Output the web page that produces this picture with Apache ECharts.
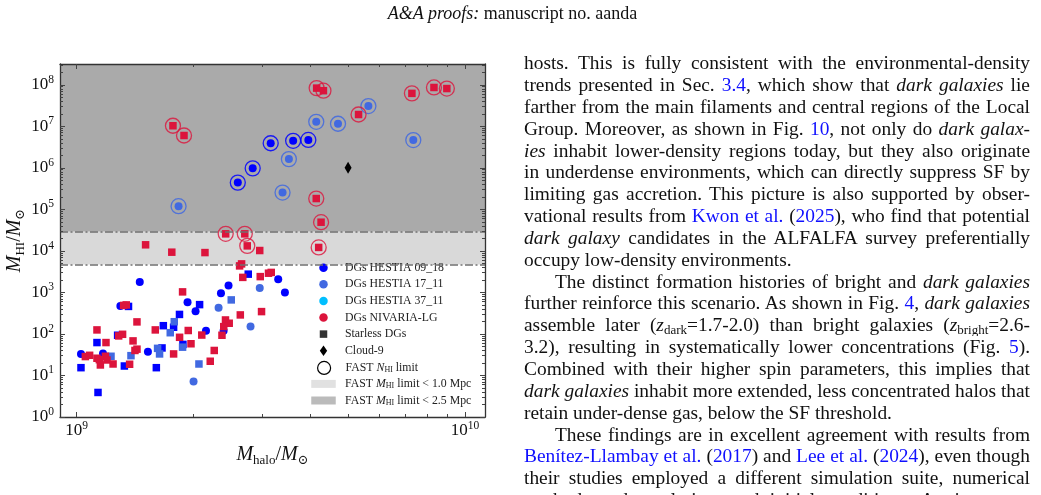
<!DOCTYPE html>
<html>
<head>
<meta charset="utf-8">
<script src="https://cdn.jsdelivr.net/npm/echarts@6/dist/echarts.min.js"></script>
<style>
html,body{margin:0;padding:0;background:#fff;width:1041px;height:495px;overflow:hidden;}
#chart{position:absolute;left:0;top:0;width:1041px;height:495px;}
.hdr{position:absolute;left:0;top:3px;width:1025px;text-align:center;font-family:'Liberation Serif','DejaVu Serif',serif;font-size:18px;line-height:20px;color:#111;}
#txt{position:absolute;left:524px;top:52.2px;width:506px;font-family:'Liberation Serif','DejaVu Serif',serif;font-size:19.4px;line-height:21.85px;color:#111;}
#txt .l{height:21.85px;overflow:hidden;text-align:justify;text-align-last:justify;}
#txt .e{text-align:left;text-align-last:left;}
#txt .ind{text-indent:31px;}
#txt a{color:#1010ff;text-decoration:none;}
#txt .sb{font-size:13px;vertical-align:-3px;line-height:0;}
</style>
</head>
<body>
<div id="chart"></div>
<div class="hdr"><i>A&amp;A proofs:</i> manuscript no. aanda</div>
<div id="txt">
<div class="l">hosts. This is fully consistent with the environmental-density</div>
<div class="l">trends presented in Sec. <a>3.4</a>, which show that <i>dark galaxies</i> lie</div>
<div class="l">farther from the main filaments and central regions of the Local</div>
<div class="l">Group. Moreover, as shown in Fig. <a>10</a>, not only do <i>dark galax-</i></div>
<div class="l"><i>ies</i> inhabit lower-density regions today, but they also originate</div>
<div class="l">in underdense environments, which can directly suppress SF by</div>
<div class="l">limiting gas accretion. This picture is also supported by obser-</div>
<div class="l">vational results from <a>Kwon et al.</a> (<a>2025</a>), who find that potential</div>
<div class="l"><i>dark galaxy</i> candidates in the ALFALFA survey preferentially</div>
<div class="l e">occupy low-density environments.</div>
<div class="l ind">The distinct formation histories of bright and <i>dark galaxies</i></div>
<div class="l">further reinforce this scenario. As shown in Fig. <a>4</a>, <i>dark galaxies</i></div>
<div class="l">assemble later (<i>z</i><span class="sb">dark</span>=1.7-2.0) than bright galaxies (<i>z</i><span class="sb">bright</span>=2.6-</div>
<div class="l">3.2), resulting in systematically lower concentrations (Fig. <a>5</a>).</div>
<div class="l">Combined with their higher spin parameters, this implies that</div>
<div class="l"><i>dark galaxies</i> inhabit more extended, less concentrated halos that</div>
<div class="l e">retain under-dense gas, below the SF threshold.</div>
<div class="l ind">These findings are in excellent agreement with results from</div>
<div class="l"><a>Benítez-Llambay et al.</a> (<a>2017</a>) and <a>Lee et al.</a> (<a>2024</a>), even though</div>
<div class="l">their studies employed a different simulation suite, numerical</div>
<div class="l">methods and resolution, and initial conditions. An important differ-</div>
</div>
<script>
// ---------------- data: [M_halo (Msun), M_HI (Msun)] ----------------
const hestia0918 = [[1.454e9,1790],[1.93e9,580],[2.024e9,352],[2.353e9,960],[2.461e9,1460],[2.153e9,120],
  [1.296e9,473],[1.526e9,37],[1.026e9,33],[1.169e9,34],[3.304e9,2080],[3.438e9,990],[2.39e9,120]];
const hestia0918Starless = [[2.073e9,508],[1.36e9,460],[1.672e9,158],[1.777e9,145],[1.128e9,62],[1.659e9,46],
  [1.878e9,56],[1.026e9,15.4],[1.327e9,16.9],[1.604e9,15.4],[1.135e9,3.9],[1.84e9,295],[2.766e9,2750],[1.275e9,93]];
const hestia0918Fast = [[2.6e9,4.4e5],[2.84e9,9.7e5],[3.16e9,3.9e6],[3.61e9,4.47e6],[3.95e9,4.7e6]];

const hestia1711 = [[2.32e9,430],[2.961e9,1280],[2.804e9,152],[2.0e9,7.2]];
const hestia1711Starless = [[2.501e9,660],[1.784e9,197],[1.742e9,107],[1.874e9,48],[2.065e9,18.9],
  [1.616e9,45],[1.635e9,33],[1.226e9,29],[1.38e9,30]];
const hestia1711Fast = [[1.83e9,1.19e5],[3.39e9,2.54e5],[3.52e9,1.62e6],[4.14e9,1.28e7],[4.71e9,1.15e7],
  [5.64e9,3.07e7],[7.36e9,4.65e6]];

const hestia3711 = [];

const nivariaStarless = [[1.505e9,1.40e4],[1.758e9,9.3e3],[2.14e9,9.1e3],[2.961e9,1.02e4],
  [2.659e9,4860],[2.628e9,4350],[2.678e9,2300],[2.97e9,2400],[3.119e9,2900],[3.17e9,3030],[2.993e9,345],
  [1.874e9,1030],[2.639e9,287],[2.417e9,217],[2.471e9,181],[2.392e9,150],[2.367e9,93],[1.938e9,121],
  [2.1e9,94],[1.841e9,83],[1.97e9,58],[1.777e9,33],[2.261e9,40],[2.208e9,22],
  [1.321e9,486],[1.342e9,500],[1.43e9,195],[1.594e9,125],[1.128e9,125],[1.283e9,89.5],[1.313e9,98],
  [1.19e9,62],[1.397e9,68],[1.43e9,43],[1.413e9,40],[1.053e9,28.5],[1.08e9,30.6],[1.128e9,26],
  [1.186e9,29],[1.151e9,17.9],[1.144e9,24],[1.197e9,23.6],[1.241e9,18.9],[1.369e9,18.6]];
const nivariaFast = [[1.77e9,1.03e7],[1.89e9,6.0e6],[2.42e9,2.57e4],[2.71e9,2.57e4],[2.75e9,1.32e4],
  [4.15e9,8.3e7],[4.32e9,7.2e7],[4.14e9,1.82e5],[4.26e9,4.9e4],[4.2e9,1.21e4],[5.32e9,1.92e7],
  [7.3e9,6.2e7],[8.32e9,8.6e7],[8.98e9,8.1e7]];

const cloud9 = [[5.0e9,1.0e6]];

const fastLimit1Mpc = 4.7e3;    // FAST M_HI limit < 1.0 Mpc
const fastLimit25Mpc = 2.9e4;   // FAST M_HI limit < 2.5 Mpc

const xMajorTicks = [1e9, 1e10];
const yMajorTicks = [1, 1e1, 1e2, 1e3, 1e4, 1e5, 1e6, 1e7, 1e8];
const X_MIN = 9.06e8, X_MAX = 1.126e10, Y_MIN = 1, Y_MAX = 3.16e8;

// minor tick positions (2..9 x 10^n)
const xMinorTicks = [], yMinorTicks = [];
for (let k = 2; k <= 9; k++) xMinorTicks.push(k * 1e9);
for (let e = 0; e <= 8; e++) for (let k = 2; k <= 9; k++) { const v = k * Math.pow(10, e); if (v < Y_MAX) yMinorTicks.push(v); }

// ---------------- chart ----------------
const SERIF = "'Liberation Serif','DejaVu Serif',serif";
const C = {h0918:'#0000ff', h1711:'#4169e1', h3711:'#00bfff', niv:'#dc143c'};
const RING = {h0918:'rgba(0,0,255,0.85)', h1711:'rgba(65,105,225,0.85)', niv:'rgba(220,20,60,0.8)'};
const AX = '#333';

function logLabel(v){ return '{b|10}{e|' + Math.round(Math.log10(v)) + '}'; }
const labelRich = {
  b:{fontFamily:SERIF, fontSize:17, lineHeight:22, color:'#111'},
  e:{fontFamily:SERIF, fontSize:11.5, verticalAlign:'top', color:'#111'}
};
const nameRich = {
  i:{fontFamily:SERIF, fontSize:20, fontStyle:'italic', lineHeight:26, color:'#111'},
  t:{fontFamily:SERIF, fontSize:20, lineHeight:26, color:'#111'},
  s:{fontFamily:SERIF, fontSize:13, verticalAlign:'bottom', color:'#111'}
};

function mkAxis(kind, pos, ticks, len, main){
  return {
    type:'log', logBase:10, position:pos, z:6,
    min: kind === 'x' ? X_MIN : Y_MIN, max: kind === 'x' ? X_MAX : Y_MAX,
    axisLine:{show:main, onZero:false, lineStyle:{color:AX, width:1.3}},
    axisTick:{show:true, inside:true, length:len, customValues:ticks, lineStyle:{color:'#444', width:1}},
    axisLabel:{show:false},
    splitLine:{show:false}, minorTick:{show:false}, minorSplitLine:{show:false}
  };
}

const xAxes = [
  mkAxis('x','bottom',xMajorTicks,5,true),
  mkAxis('x','bottom',xMinorTicks,3,false),
  mkAxis('x','top',xMajorTicks,5,true),
  mkAxis('x','top',xMinorTicks,3,false)
];
Object.assign(xAxes[0], {
  axisLabel:{show:true, customValues:xMajorTicks, formatter:logLabel, rich:labelRich, margin:3},
  name:'{i|M}{s|halo}{t|/}{i|M}{s|⊙}', nameLocation:'middle', nameGap:20,
  nameTextStyle:{rich:nameRich}
});
const yAxes = [
  mkAxis('y','left',yMajorTicks,5,true),
  mkAxis('y','left',yMinorTicks,3,false),
  mkAxis('y','right',yMajorTicks,5,true),
  mkAxis('y','right',yMinorTicks,3,false)
];
Object.assign(yAxes[0], {
  axisLabel:{show:true, customValues:yMajorTicks, formatter:logLabel, rich:labelRich, margin:6},
  name:'{i|M}{s|HI}{t|/}{i|M}{s|⊙}', nameLocation:'middle', nameGap:31, nameRotate:90,
  nameTextStyle:{rich:nameRich}
});

function pts(name, data, color, symbol, size){
  return {type:'scatter', name:name, data:data, symbol:symbol, symbolSize:size,
    itemStyle:{color:color, opacity:1}, emphasis:{disabled:true}, silent:true, z:3};
}
function rings(data, color){
  return {type:'scatter', name:'FAST NHI limit', data:data, symbol:'circle', symbolSize:15,
    itemStyle:{color:'rgba(0,0,0,0)', borderColor:color, borderWidth:1.3, opacity:1},
    emphasis:{disabled:true}, silent:true, z:4};
}

const series = [
  {type:'scatter', name:'FAST MHI limit < 2.5 Mpc', data:[], silent:true, z:1,
    markArea:{silent:true, itemStyle:{color:'#aaaaaa'}, data:[[{yAxis:fastLimit25Mpc},{yAxis:Y_MAX}]]}},
  {type:'scatter', name:'FAST MHI limit < 1.0 Mpc', data:[], silent:true, z:1,
    markArea:{silent:true, itemStyle:{color:'#d9d9d9'}, data:[[{yAxis:fastLimit1Mpc},{yAxis:fastLimit25Mpc}]]}},
  {type:'scatter', name:'__limits', data:[], silent:true, z:2,
    markLine:{silent:true, symbol:'none', label:{show:false},
      lineStyle:{color:'#707070', width:1.6, type:[8,2.5,2,2.5]},
      data:[{yAxis:fastLimit1Mpc},{yAxis:fastLimit25Mpc}]}},
  pts('DGs HESTIA 09_18', hestia0918, C.h0918, 'circle', 8),
  pts('DGs HESTIA 09_18', hestia0918Starless, C.h0918, 'rect', 7.5),
  pts('DGs HESTIA 09_18', hestia0918Fast, C.h0918, 'circle', 8),
  pts('DGs HESTIA 17_11', hestia1711, C.h1711, 'circle', 8),
  pts('DGs HESTIA 17_11', hestia1711Starless, C.h1711, 'rect', 7.5),
  pts('DGs HESTIA 17_11', hestia1711Fast, C.h1711, 'circle', 8),
  pts('DGs HESTIA 37_11', hestia3711, C.h3711, 'circle', 8),
  pts('DGs NIVARIA-LG', nivariaStarless, C.niv, 'rect', 7.5),
  pts('DGs NIVARIA-LG', nivariaFast, C.niv, 'rect', 7.5),
  pts('Cloud-9', cloud9, '#000', 'diamond', [7,12]),
  {type:'scatter', name:'Starless DGs', data:[], silent:true},
  rings(hestia0918Fast, RING.h0918),
  rings(hestia1711Fast, RING.h1711),
  rings(nivariaFast, RING.niv)
];

const legendText = {
  'FAST NHI limit':'FAST {i|N}{s|HI} limit',
  'FAST MHI limit < 1.0 Mpc':'FAST {i|M}{s|HI} limit < 1.0 Mpc',
  'FAST MHI limit < 2.5 Mpc':'FAST {i|M}{s|HI} limit < 2.5 Mpc'
};
function legendTextStyle(padLeft){
  return {
    fontFamily:SERIF, fontSize:11.8, color:'#222', lineHeight:12, padding:[0,0,0,padLeft],
    rich:{
      i:{fontFamily:SERIF, fontSize:11.8, fontStyle:'italic', color:'#222'},
      s:{fontFamily:SERIF, fontSize:8, verticalAlign:'bottom', color:'#222'}
    }
  };
}
// icons are centred on MARK_X; text starts near TEXT_X
const MARK_X = 323.5, TEXT_X = 345;
function mkLegend(rowCenter, iconW, iconH, boxW, boxH, data, fullBox){
  // bounding box of the group starts at the drawn icon's left edge
  const boxLeft = fullBox ? MARK_X - boxW / 2 : MARK_X - iconW / 2;
  const iconBoxLeft = MARK_X - boxW / 2;
  const pad = TEXT_X - (iconBoxLeft + boxW + 5);
  return {show:true, orient:'vertical', top:rowCenter - Math.max(boxH, 12) / 2, left:boxLeft,
    itemWidth:boxW, itemHeight:boxH, itemGap:4.6,
    padding:0, selectedMode:false, data:data, textStyle:legendTextStyle(pad),
    formatter:function(n){ return legendText[n] || n; }};
}
const ROW0 = 267.7, ROWH = 16.6;
const legends = [
  mkLegend(ROW0, 8.5, 8.5, 25, 8.5, [
    {name:'DGs HESTIA 09_18', icon:'circle', itemStyle:{color:C.h0918}},
    {name:'DGs HESTIA 17_11', icon:'circle', itemStyle:{color:C.h1711}},
    {name:'DGs HESTIA 37_11', icon:'circle', itemStyle:{color:C.h3711}},
    {name:'DGs NIVARIA-LG', icon:'circle', itemStyle:{color:C.niv}}
  ], false),
  mkLegend(ROW0 + 4*ROWH, 7.5, 7.5, 25, 7.5, [
    {name:'Starless DGs', icon:'path://M0,0H1V1H0Z', itemStyle:{color:'#000'}}
  ], false),
  mkLegend(ROW0 + 5*ROWH, 7.35, 10.5, 25, 10.5, [
    {name:'Cloud-9', icon:'path://M3.5,0L7,5L3.5,10L0,5Z', itemStyle:{color:'#000'}}
  ], false),
  mkLegend(ROW0 + 6*ROWH, 13, 13, 25, 13, [
    {name:'FAST NHI limit', icon:'circle', itemStyle:{color:'rgba(0,0,0,0)', borderColor:'#000', borderWidth:1.2}}
  ], false),
  mkLegend(ROW0 + 7*ROWH, 24.5, 8, 24.5, 8, [
    {name:'FAST MHI limit < 1.0 Mpc', icon:'rect', itemStyle:{color:'#d9d9d9'}},
    {name:'FAST MHI limit < 2.5 Mpc', icon:'rect', itemStyle:{color:'#aaaaaa'}}
  ], true)
];

const chart = echarts.init(document.getElementById('chart'), null, {renderer:'canvas'});
chart.setOption({
  animation:false,
  backgroundColor:'#fff',
  grid:{left:60, top:64, width:425, height:353, containLabel:false, show:false},
  xAxis:xAxes,
  yAxis:yAxes,
  legend:legends,
  series:series
});
</script>
</body>
</html>
